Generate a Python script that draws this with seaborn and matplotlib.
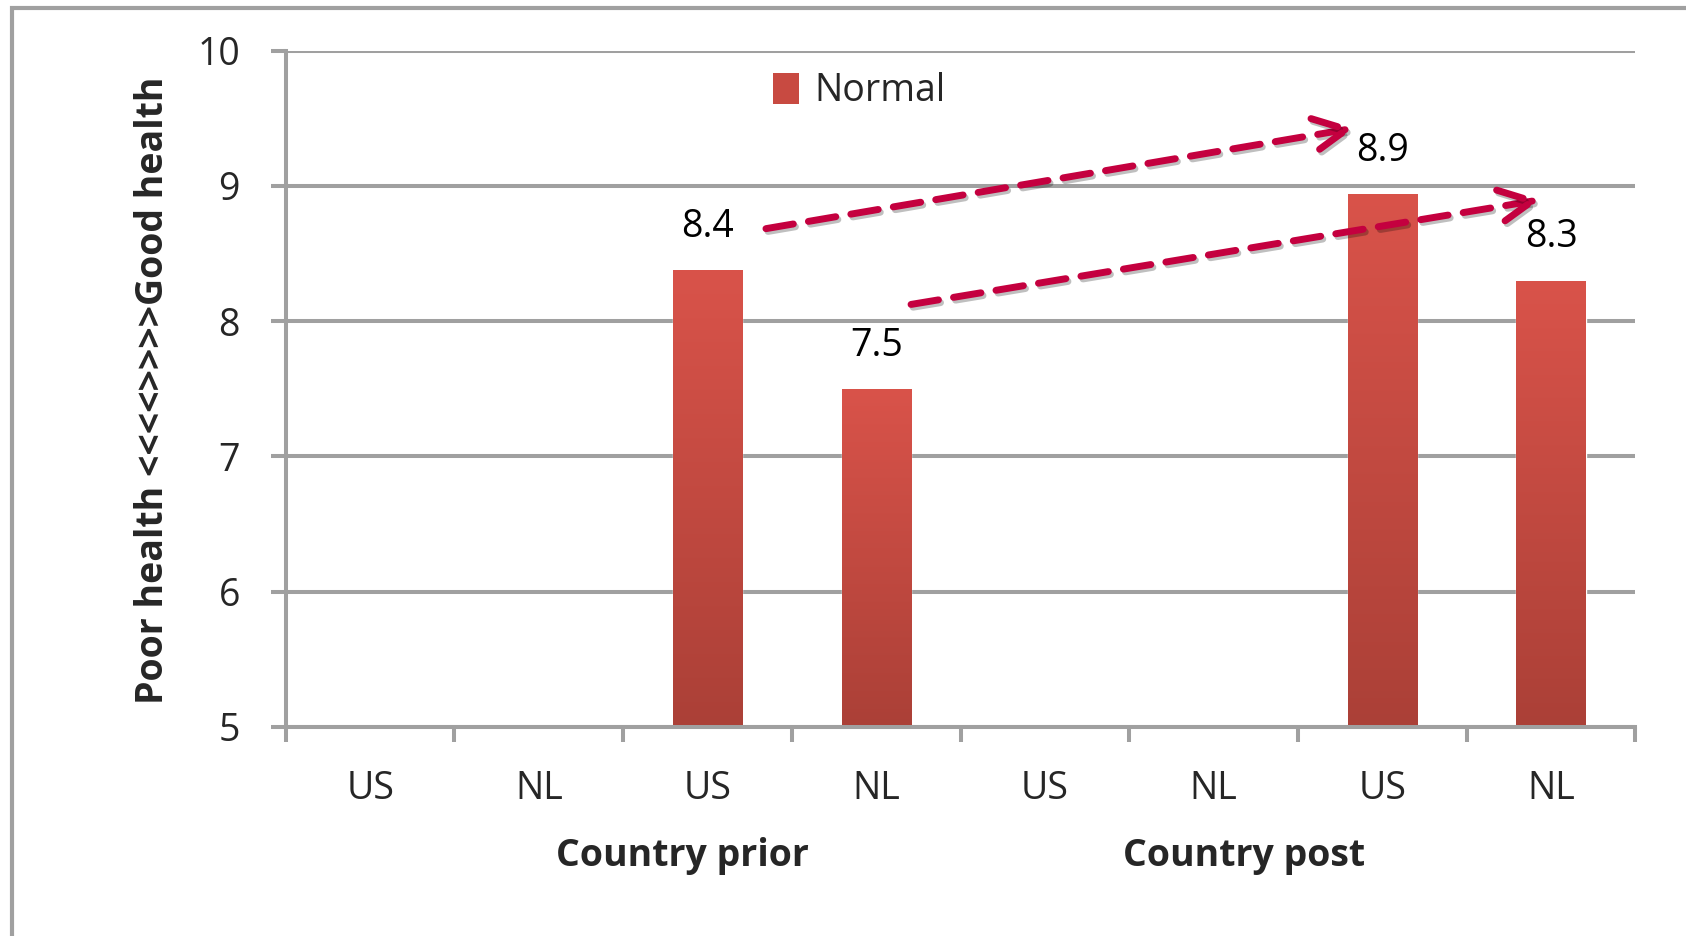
import numpy as np
import pandas as pd
import matplotlib
matplotlib.use("Agg")
import matplotlib.pyplot as plt
import matplotlib.patheffects as pe
from matplotlib.patches import Rectangle, FancyArrowPatch
from matplotlib.colors import LinearSegmentedColormap
import seaborn as sns

# Chart data
countries = ["US", "NL", "US", "NL", "US", "NL", "US", "NL"]
slots = [f"c{i}" for i in range(8)]
normal_scores = [np.nan, np.nan, 8.38, 7.50, np.nan, np.nan, 8.94, 8.30]
group_labels = ["Country prior", "Country post"]
group_label_x = [1.85, 5.18]
series_name = "Normal"
y_ticks = [5, 6, 7, 8, 9, 10]

# Change arrows (start -> end in data coordinates)
arrows = [((2.33, 8.68), (5.85, 9.43)),
          ((3.19, 8.12), (6.95, 8.90))]

df = pd.DataFrame({"slot": slots, "score": normal_scores, "series": series_name})

sns.set_theme(style="white")
plt.rcParams["font.family"] = ["Open Sans", "DejaVu Sans"]

GRID = "#a0a0a0"
TOP_RED = "#d9534a"
BOT_RED = "#ab4037"
ARROW = "#c4003f"
FS = 27

fig = plt.figure(figsize=(16.86, 9.36), dpi=100)
ax = fig.add_axes([0.1695, 0.2233, 0.8005, 0.7227])

sns.barplot(data=df, x="slot", y="score", order=slots, color=TOP_RED,
            width=0.41, ax=ax, legend=False, saturation=1)

ax.set_xlim(-0.5, 7.5)
ax.set_ylim(5, 10)

# vertical gradient fill plus soft shadow on every bar
cmap = LinearSegmentedColormap.from_list("bar", [BOT_RED, TOP_RED])
grad = np.linspace(0, 1, 256).reshape(-1, 1)
for p in ax.patches:
    h = p.get_height()
    if not np.isfinite(h) or h == 0:
        continue
    x0, w = p.get_x(), p.get_width()
    p.set_path_effects([pe.SimplePatchShadow(offset=(0, 0), shadow_rgbFace="#000000",
                                             alpha=0.18), pe.Normal()])
    im = ax.imshow(grad, cmap=cmap, origin="lower", aspect="auto",
                   extent=(x0, x0 + w, 5, h), zorder=p.get_zorder() + 0.1)
    im.set_clip_path(p)
    ax.annotate(f"{h:.1f}", xy=(p.get_x() + w / 2, h), xytext=(0, 31),
                textcoords="offset points", ha="center", va="center",
                fontsize=FS, color="black")

ax.set_xlim(-0.5, 7.5)
ax.set_ylim(5, 10)

# grid, spines, ticks
ax.set_yticks(y_ticks)
ax.yaxis.grid(True, color=GRID, linewidth=2.9)
ax.set_axisbelow(True)
for s in ["top", "right"]:
    ax.spines[s].set_visible(False)
for s in ["left", "bottom"]:
    ax.spines[s].set_color(GRID)
    ax.spines[s].set_linewidth(2.9)
ax.tick_params(axis="y", which="major", direction="out", length=11, width=2.9,
               color=GRID, pad=22, labelsize=FS, left=True)
ax.set_xticks(range(8))
ax.set_xticklabels(countries)
ax.set_xticks(np.arange(-0.5, 8.0, 1.0), minor=True)
ax.tick_params(axis="x", which="major", length=0, pad=31, labelsize=FS)
ax.tick_params(axis="x", which="minor", direction="out", length=11, width=2.9,
               color=GRID, bottom=True)
ax.set_xlabel("")
ax.set_ylabel("")

for lab, gx in zip(group_labels, group_label_x):
    ax.text(gx, -0.19, lab, transform=ax.get_xaxis_transform(), ha="center",
            va="center", fontsize=FS, fontweight="bold")

fig.text(153 / 1686, 1 - 390 / 936, "Poor health <<<<>>>>Good health",
         rotation=90, ha="center", va="center", fontsize=FS, fontweight="bold")

# legend
handle = Rectangle((0, 0), 1, 1, facecolor="#c84a41", edgecolor="none")
ax.legend([handle], [series_name], loc="upper left", bbox_to_anchor=(0.336, 1.018),
          frameon=False, fontsize=FS, handlelength=0.7, handleheight=0.9,
          handletextpad=0.4)

# dashed change arrows
for (x0, y0), (x1, y1) in arrows:
    arr = FancyArrowPatch((x0, y0), (x1, y1), arrowstyle="->,head_length=1.2,head_width=0.6",
                          mutation_scale=20, color=ARROW, linewidth=5,
                          linestyle=(0, (4.0, 2.2)), zorder=6)
    arr.set_path_effects([pe.SimpleLineShadow(offset=(1.5, -2), shadow_color="black",
                                              alpha=0.25), pe.Normal()])
    ax.add_patch(arr)

# outer chart border
fig.patches.append(Rectangle((12 / 1686, -0.1), 1.2, 1 - 8 / 936 + 0.1,
                             transform=fig.transFigure, fill=False,
                             edgecolor=GRID, linewidth=3, zorder=0))

fig.savefig("out.png", dpi=100)
